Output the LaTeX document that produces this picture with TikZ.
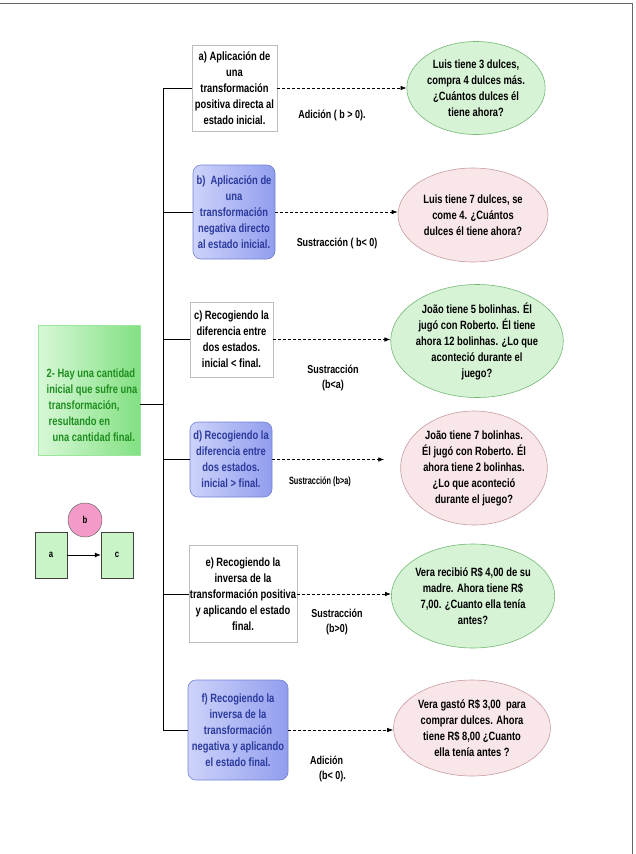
\documentclass[tikz,border=0pt]{standalone}
\usepackage{fontspec}
\setmainfont{Liberation Sans}[FakeStretch=0.78]
\newfontfamily\narrowfont{Liberation Sans}[FakeStretch=0.7]
\usetikzlibrary{shapes.geometric,arrows.meta}
\definecolor{boxgray}{HTML}{BDBDBD}
\definecolor{bluelight}{HTML}{CDD3FA}
\definecolor{bluedark}{HTML}{929EEE}
\definecolor{blueborder}{HTML}{7282D6}
\definecolor{bluetext}{HTML}{2B3A9C}
\definecolor{greenlight}{HTML}{D8F8D8}
\definecolor{greendark}{HTML}{82E082}
\definecolor{greentext}{HTML}{1E8E1E}
\definecolor{smallgreen}{HTML}{C8F4C8}
\definecolor{pinkb}{HTML}{F39AC8}
\definecolor{ellgfill}{HTML}{D6F3D6}
\definecolor{ellgborder}{HTML}{74B874}
\definecolor{ellpfill}{HTML}{F8E6E8}
\definecolor{ellpborder}{HTML}{C89CA2}
\begin{document}
\begin{tikzpicture}[x=1pt,y=-1pt,
  txt/.style={font=\fontsize{12}{16}\selectfont\bfseries, align=center, inner sep=1pt},
  whitebox/.style={txt, draw=boxgray, line width=0.6pt, fill=white},
  bluebox/.style={txt, draw=blueborder, rounded corners=8pt, left color=bluelight, right color=bluedark, text=bluetext, line width=0.6pt},
  ellg/.style={txt, ellipse, draw=ellgborder, fill=ellgfill, inner sep=0pt, line width=0.6pt},
  ellp/.style={txt, ellipse, draw=ellpborder, fill=ellpfill, inner sep=0pt, line width=0.6pt},
  link/.style={draw=black, line width=0.7pt},
  dlink/.style={draw=black, line width=0.7pt, dash pattern=on 3pt off 2pt, -{Latex[length=6pt,width=4.5pt]}},
  lbl/.style={font=\fontsize{11.5}{15}\selectfont\bfseries, align=center, inner sep=0pt},
  smallbox/.style={draw=black!75, fill=smallgreen, minimum width=32pt, minimum height=46pt, font=\fontsize{10}{12}\selectfont\bfseries, line width=0.5pt}
]
\useasboundingbox (0,0) rectangle (635,854);
\coordinate (fa) at (0,3);
\coordinate (fb) at (632,3);
\coordinate (fc) at (632,854);
\draw[black!60, line width=0.6pt] (fa) -- (fb) -- (fc);

% left main box
\node[draw=greendark!80, left color=greenlight, right color=greendark, minimum width=102pt, minimum height=130pt, line width=0.4pt] (main) at (89,390) {};
\node[txt, align=left, text=greentext] (maintext) at (92,405) {2- Hay una cantidad\\inicial que sufre una\\\hspace{2pt}transformación,\\\hspace{2pt}resultando en\\\hspace{6pt}una cantidad final.};

% small diagram
\node[circle, fill=pinkb, draw=black!60, minimum size=34pt, inner sep=0pt, font=\fontsize{10}{12}\selectfont\bfseries, line width=0.5pt] (nb) at (85,520) {b};
\node[smallbox] (na) at (51,555) {a};
\node[smallbox] (nc) at (117,555) {c};
\draw[link, -{Latex[length=6pt,width=5pt]}] (na) -- (nc);

% trunk
\coordinate (ttop) at (163,88);
\coordinate (tbot) at (163,730);
\coordinate (j) at (163,404);
\draw[link] (ttop) -- (tbot);
\draw[link] (main.east |- j) -- (j);

% boxes
\node[whitebox, minimum width=85pt, minimum height=86pt] (ba) at (234.5,88) {a) Aplicación de\\una\\transformación\\positiva directa al\\estado inicial.};
\node[bluebox, minimum width=82pt, minimum height=94pt] (bb) at (234,212) {b)\ \ Aplicación de\\una\\transformación\\negativa directo\\al estado inicial.};
\node[whitebox, minimum width=83pt, minimum height=75pt] (bc) at (231.5,339.5) {c) Recogiendo la\\diferencia entre\\dos estados.\\inicial < final.};
\node[bluebox, minimum width=82pt, minimum height=75pt] (bd) at (231,459.5) {d) Recogiendo la\\diferencia entre\\dos estados.\\inicial > final.};
\node[whitebox, minimum width=106pt, minimum height=97pt] (be) at (243,594) {e) Recogiendo la\\inversa de la\\transformación positiva\\y aplicando el estado\\final.};
\node[bluebox, minimum width=100pt, minimum height=100pt] (bf) at (238,730) {f) Recogiendo la\\inversa de la\\transformación\\negativa y aplicando\\el estado final.};

\foreach \b in {ba,bb,bc,bd,be,bf}{\draw[link] (\b.west -| ttop) -- (\b.west);}

% ellipses
\node[ellg, minimum width=134pt, minimum height=93pt] (e1) at (476,88) {Luis tiene 3 dulces,\\compra 4 dulces más.\\¿Cuántos dulces él\\tiene ahora?};
\node[ellp, minimum width=150pt, minimum height=94pt] (e2) at (473,215) {Luis tiene 7 dulces, se\\come 4. ¿Cuántos\\dulces él tiene ahora?};
\node[ellg, minimum width=156pt, minimum height=113pt] (e3) at (477,341) {João tiene 5 bolinhas. Él\\jugó con Roberto. Él tiene\\ahora 12 bolinhas. ¿Lo que\\aconteció durante el\\juego?};
\node[ellp, minimum width=134pt, minimum height=114pt] (e4) at (474,468) {João tiene 7 bolinhas.\\Él jugó con Roberto. Él\\ahora tiene 2 bolinhas.\\¿Lo que aconteció\\durante el juego?};
\node[ellg, minimum width=160pt, minimum height=104pt] (e5) at (473,596) {Vera recibió R\$ 4,00 de su\\madre. Ahora tiene R\$\\7,00. ¿Cuanto ella tenía\\antes?};
\node[ellp, minimum width=157pt, minimum height=96pt] (e6) at (472,728) {Vera gastó R\$ 3,00\ \ para\\comprar dulces. Ahora\\tiene R\$ 8,00 ¿Cuanto\\ella tenía antes ?};

% dashed arrows
\draw[dlink] (ba.east) -- (ba.east -| e1.west);
\draw[dlink] (bb.east) -- (bb.east -| e2.west);
\draw[dlink] (bc.east) -- (bc.east -| e3.west);
\draw[dlink, shorten >=16pt] (bd.east) -- (bd.east -| e4.west);
\draw[dlink] (be.east) -- (be.east -| e5.west);
\draw[dlink] (bf.east) -- (bf.east -| e6.west);

% labels
\node[lbl] (la) at (332,115) {Adición ( b > 0).};
\node[lbl] (lb) at (337,243) {Sustracción ( b< 0)};
\node[lbl] (lc) at (333,378) {Sustracción\\(b<a)};
\node[lbl, font=\fontsize{10.5}{13}\selectfont\narrowfont\bfseries] (ld) at (320,482) {Sustracción (b>a)};
\node[lbl] (le) at (337,622) {Sustracción\\(b>0)};
\node[lbl, align=left] (lf) at (328,769) {Adición\\\hspace{9pt}(b< 0).};
\end{tikzpicture}
\end{document}
